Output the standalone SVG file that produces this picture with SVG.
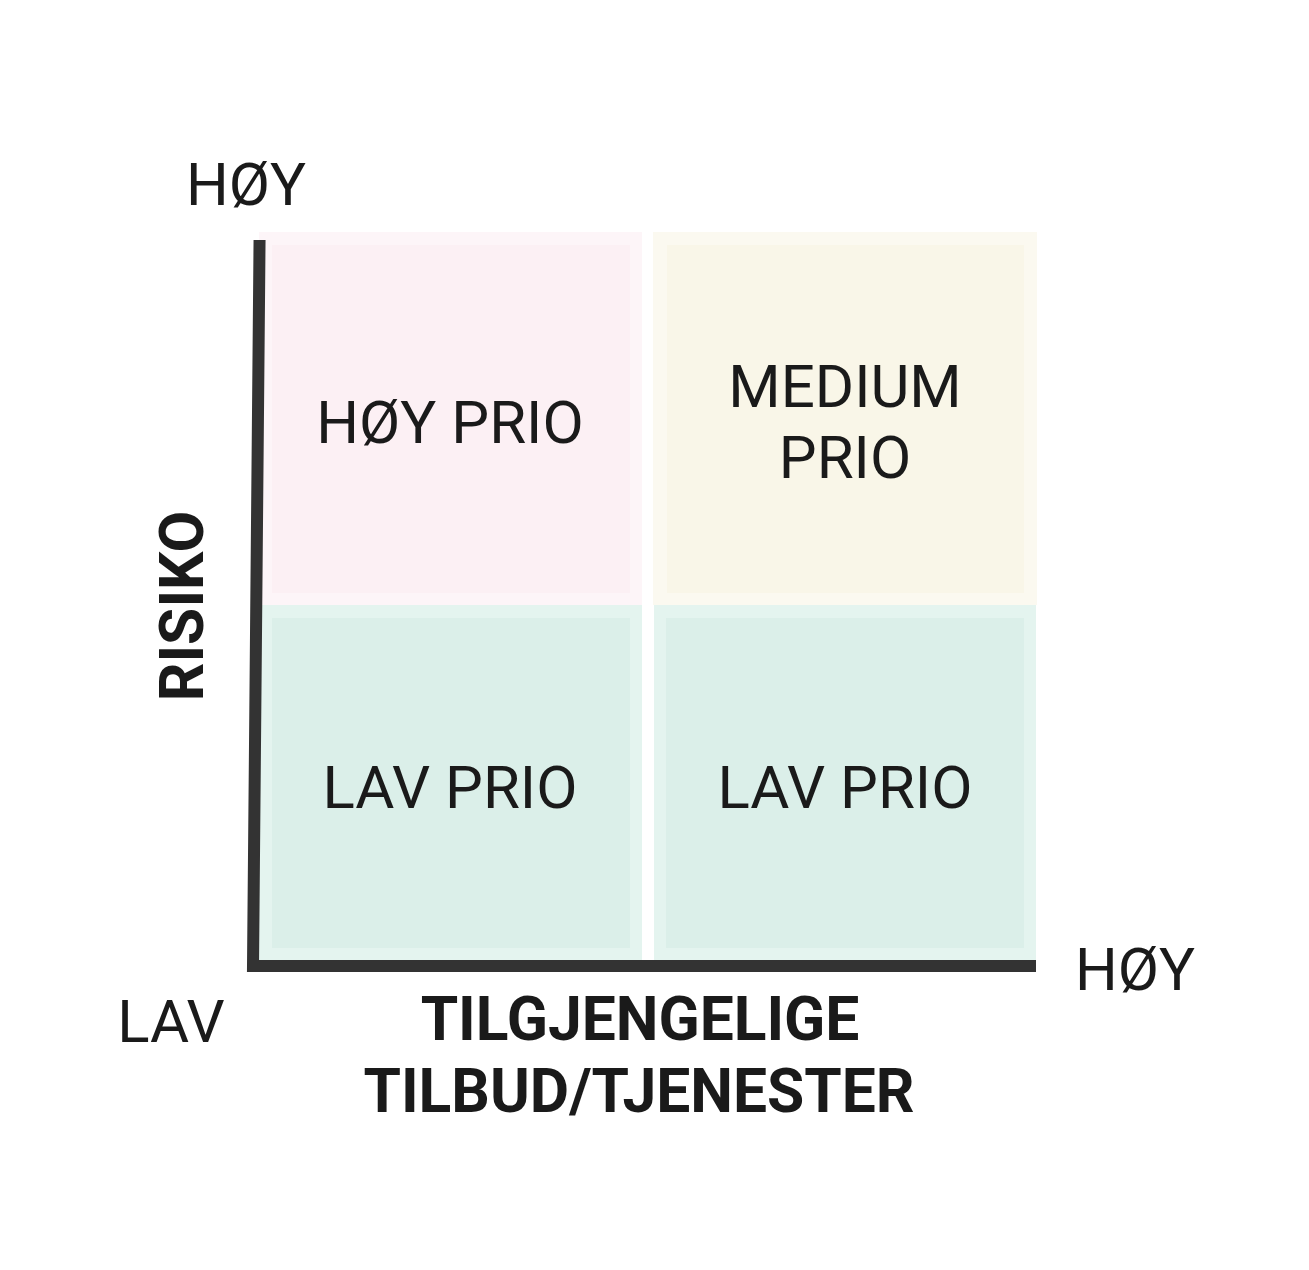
<svg xmlns="http://www.w3.org/2000/svg" width="1309" height="1270" viewBox="0 0 1309 1270">
<style>
.lbl{font-family:Roboto,"Liberation Sans",sans-serif;font-size:60px;fill:#1a1a1a;text-anchor:middle}
.ttl{font-family:Roboto,"Liberation Sans",sans-serif;font-size:60.5px;font-weight:bold;fill:#1a1a1a;text-anchor:middle}
.axis{fill:none;stroke:#333;stroke-width:12;stroke-linejoin:miter;stroke-linecap:square}
</style>
<rect width="1309" height="1270" fill="#fff"/>
<g id="q-hoy">
<rect x="259" y="232" width="383" height="373" fill="#fdf5f8"/>
<rect x="272" y="245" width="358" height="348" fill="#fcf0f4"/>
<text class="lbl" x="450" y="443">HØY PRIO</text>
</g>
<g id="q-medium">
<rect x="653" y="232" width="384" height="373" fill="#fbf9f0"/>
<rect x="667" y="245" width="357" height="348" fill="#f9f6e8"/>
<text class="lbl" x="845" y="407">MEDIUM</text>
<text class="lbl" x="845" y="478">PRIO</text>
</g>
<g id="q-lav1">
<rect x="259" y="605" width="383" height="355" fill="#e4f4ef"/>
<rect x="272" y="618" width="358" height="330" fill="#dbefe9"/>
<text class="lbl" x="450" y="808">LAV PRIO</text>
</g>
<g id="q-lav2">
<rect x="654" y="605" width="382" height="355" fill="#e4f4ef"/>
<rect x="666" y="618" width="358" height="330" fill="#dbefe9"/>
<text class="lbl" x="845" y="808">LAV PRIO</text>
</g>
<g id="connectors">
<path class="axis" d="M259.5 246 L253 966 L1030 966"/>
</g>
<g id="labels">
<text class="lbl" x="246" y="205">HØY</text>
<text class="lbl" x="1135" y="990">HØY</text>
<text class="lbl" x="171" y="1042">LAV</text>
<text class="ttl" x="640" y="1040">TILGJENGELIGE</text>
<text class="ttl" x="639" y="1112">TILBUD/TJENESTER</text>
<text class="ttl" transform="translate(203,606) rotate(-90)">RISIKO</text>
</g>
</svg>
